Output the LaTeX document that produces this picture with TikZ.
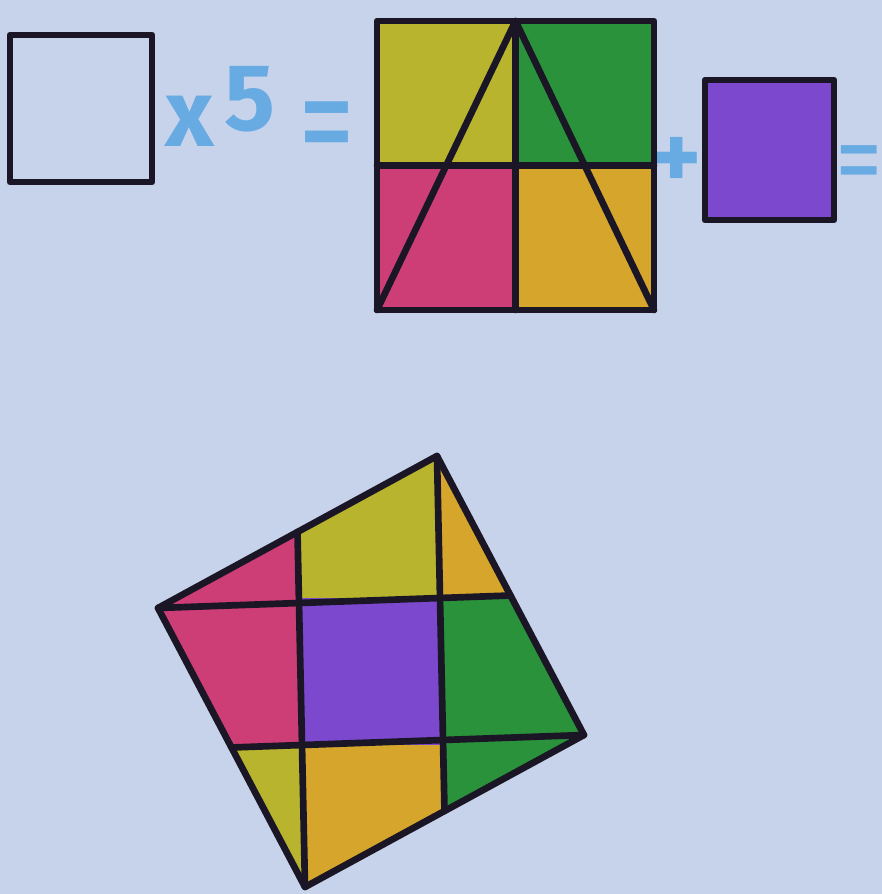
\documentclass[tikz,border=0pt]{standalone}
\usepackage{fontspec}
\setmainfont{Fira Sans}
\usetikzlibrary{calc}

\definecolor{paper}{RGB}{198,211,234}
\definecolor{ink}{RGB}{26,22,38}
\definecolor{chalk}{RGB}{104,170,226}
\definecolor{pcyel}{RGB}{184,180,46}
\definecolor{pcgrn}{RGB}{42,146,58}
\definecolor{pcpnk}{RGB}{206,62,118}
\definecolor{pcorg}{RGB}{214,166,44}
\definecolor{pcprp}{RGB}{124,72,206}

\begin{document}
\begin{tikzpicture}[
  x=0.2mm, y=-0.2mm,
  font=\fontsize{54}{58}\selectfont,
  edge/.style={draw=ink,line width=3.8pt,line join=round,line cap=round},
  sign/.style={text=chalk,inner sep=0pt,font=\fontsize{54}{58}\selectfont},
  heavy/.style={sign,font=\fontsize{54}{58}\selectfont\bfseries}
]

% ---- paper ----
\fill[paper] (0,0) rectangle (882,894);
\useasboundingbox (0,0) rectangle (882,894);

% ---- one small square, and the signs ----
\draw[edge] (10,35) rectangle (152,182);
\node[heavy] (times) at (190,121) {x};
\node[heavy] (five) at (250,99) {5};
\node[sign,xscale=1.2,yscale=1.6] (eqa) at (327,137) {=};
\node[heavy] (plus) at (677,163) {+};
\node[sign,xscale=1.0,yscale=1.15] (eqb) at (859,171) {=};

% ---- four squares cut by the triangle ----
\begin{scope}[shift={(377,310)}, x={(27.7mm,0mm)}, y={(0mm,28.9mm)}]
  \fill[pcyel] (0,1) rectangle (1,2);
  \fill[pcgrn] (1,1) rectangle (2,2);
  \fill[pcpnk] (0,0) rectangle (1,1);
  \fill[pcorg] (1,0) rectangle (2,1);
  \coordinate (apex) at (1,2);
  \draw[edge] (0,0) rectangle (2,2);
  \draw[edge] (0,1) -- (2,1);
  \draw[edge] (1,0) -- (apex);
  \draw[edge] (0,0) -- (apex) -- (2,0);
\end{scope}

% ---- the fifth square ----
\draw[edge,fill=pcprp] (705,80) rectangle (834,220);

% ---- the five squares put together ----
\begin{scope}[shift={(302,745)}, x={(28.2mm,1mm)}, y={(-0.6mm,28.4mm)}]
  \coordinate (west) at (-1,1);
  \coordinate (north) at (1,2);
  \coordinate (east) at (2,0);
  \coordinate (south) at (0,-1);
  \fill[pcpnk] (west) -- (0,1.5) -- (0,0) -- (-0.5,0) -- cycle;
  \fill[pcyel] (0,1) -- (0,1.5) -- (north) -- (1,1) -- cycle;
  \fill[pcyel] (-0.5,0) -- (0,0) -- (south) -- cycle;
  \fill[pcorg] (1,1) -- (north) -- (1.5,1) -- cycle;
  \fill[pcorg] (0,0) -- (1,0) -- (1,-0.5) -- (south) -- cycle;
  \fill[pcgrn] (1,1) -- (1.5,1) -- (east) -- (1,-0.5) -- cycle;
  \fill[pcprp] (0,0) rectangle (1,1);
  \draw[edge] (west) -- (north) -- (east) -- (south) -- cycle;
  \draw[edge] (west) -- (1.5,1);
  \draw[edge] (-0.5,0) -- (east);
  \draw[edge] (0,1.5) -- (south);
  \draw[edge] (north) -- (1,-0.5);
\end{scope}

\end{tikzpicture}
\end{document}
